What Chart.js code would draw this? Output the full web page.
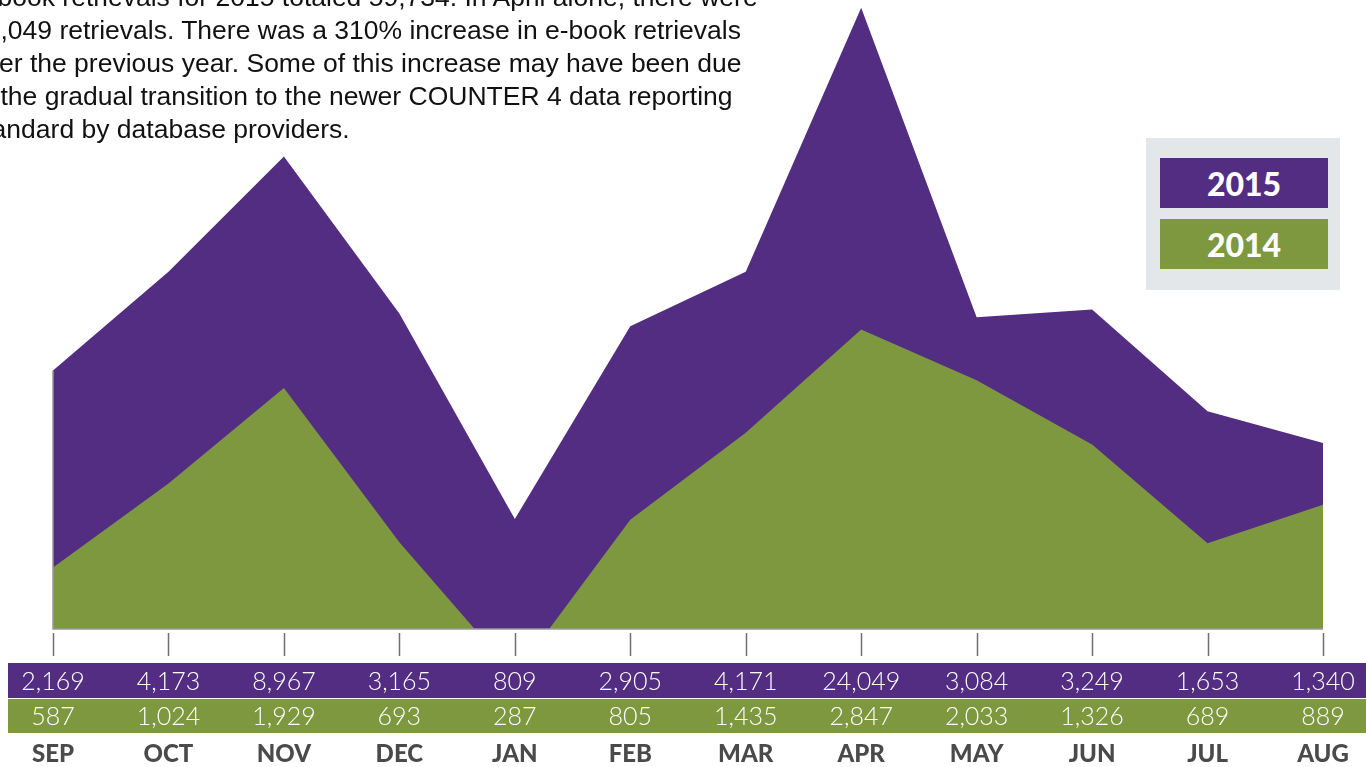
<!DOCTYPE html>
<html lang="en">
<head>
    <meta charset="UTF-8">
    <title>E-book retrievals 2014 vs 2015</title>
    <script src="https://cdn.jsdelivr.net/npm/chart.js"></script>
    <style>
        * { margin: 0; padding: 0; box-sizing: border-box; }
        body { width: 1366px; height: 767px; overflow: hidden; background: #fff; position: relative; font-family: 'Liberation Sans', Arial, sans-serif; }

        #wrap { position: absolute; left: 0; top: 0; width: 1366px; height: 767px; }

        /* intro text, cropped at the top-left like the source */
        .intro {
            position: absolute; left: -29px; top: -19px; z-index: 2;
            font-size: 26.5px; line-height: 33px; color: #111; white-space: nowrap;
        }

        /* legend box */
        .legend-box { position: absolute; left: 1146px; top: 138px; width: 194px; height: 152px; background: #e4e7ea; z-index: 2; }
        .legend-item {
            position: absolute; left: 14px; width: 168px; height: 50px;
            color: #fff; font-family: Lato, sans-serif; font-weight: 900; font-size: 32px;
            display: flex; align-items: center; justify-content: center;
        }
        .legend-item.y2015 { top: 20px; background: #532d81; }
        .legend-item.y2014 { top: 81px; background: #7d983e; }
    </style>
</head>
<body>
    <div class="intro">
        E-book retrievals for 2015 totaled 59,734. In April alone, there were<br>
        24,049 retrievals. There was a 310% increase in e-book retrievals<br>
        over the previous year. Some of this increase may have been due<br>
        to the gradual transition to the newer COUNTER 4 data reporting<br>
        standard by database providers.
    </div>

    <div class="legend-box">
        <div class="legend-item y2015">2015</div>
        <div class="legend-item y2014">2014</div>
    </div>

    <div id="wrap">
        <canvas id="ebookChart" width="1366" height="767"></canvas>
    </div>

    <script>
        // data
        const months = ['SEP', 'OCT', 'NOV', 'DEC', 'JAN', 'FEB', 'MAR', 'APR', 'MAY', 'JUN', 'JUL', 'AUG'];
        const retrievals2015 = [2169, 4173, 8967, 3165, 809, 2905, 4171, 24049, 3084, 3249, 1653, 1340];
        const retrievals2014 = [587, 1024, 1929, 693, 287, 805, 1435, 2847, 2033, 1326, 689, 889];

        const PURPLE = '#532d81';
        const GREEN = '#7d983e';

        const fmt = n => n.toLocaleString('en-US');

        // baseline, tick marks and the value table under the chart
        const tablePlugin = {
            id: 'valueTable',
            afterDraw(chart) {
                const ctx = chart.ctx;
                const x = chart.scales.x;
                const y = chart.scales.y;
                const area = chart.chartArea;

                ctx.save();
                // gray baseline + left edge
                ctx.strokeStyle = '#999';
                ctx.lineWidth = 1.5;
                ctx.beginPath();
                ctx.moveTo(area.left, y.getPixelForValue(retrievals2015[0]));
                ctx.lineTo(area.left, area.bottom);
                ctx.lineTo(area.right, area.bottom);
                ctx.stroke();

                // tick marks
                ctx.strokeStyle = '#6f6f6f';
                months.forEach((m, i) => {
                    const px = Math.round(x.getPixelForValue(i)) + 0.5;
                    ctx.beginPath();
                    ctx.moveTo(px, area.bottom + 4);
                    ctx.lineTo(px, area.bottom + 27);
                    ctx.stroke();
                });

                // bands
                ctx.fillStyle = PURPLE;
                ctx.fillRect(8, 663, chart.width - 8, 35);
                ctx.fillStyle = GREEN;
                ctx.fillRect(8, 699, chart.width - 8, 34);

                ctx.textAlign = 'center';
                ctx.textBaseline = 'middle';
                months.forEach((m, i) => {
                    const px = x.getPixelForValue(i);
                    ctx.fillStyle = '#fff';
                    ctx.font = '300 25px Lato, sans-serif';
                    ctx.fillText(fmt(retrievals2015[i]), px, 682);
                    ctx.fillText(fmt(retrievals2014[i]), px, 717);
                    ctx.fillStyle = '#4a4a4a';
                    ctx.font = '900 24px Lato, sans-serif';
                    ctx.fillText(m, px, 754);
                });
                ctx.restore();
            }
        };

        new Chart(document.getElementById('ebookChart'), {
            type: 'line',
            data: {
                labels: months,
                datasets: [
                    {
                        label: '2014',
                        data: retrievals2014,
                        backgroundColor: GREEN,
                        borderWidth: 0,
                        pointRadius: 0,
                        fill: 'start',
                        tension: 0
                    },
                    {
                        label: '2015',
                        data: retrievals2015,
                        backgroundColor: PURPLE,
                        borderWidth: 0,
                        pointRadius: 0,
                        fill: 'start',
                        tension: 0
                    }
                ]
            },
            options: {
                responsive: false,
                animation: false,
                layout: { padding: { left: 53, right: 43, top: 5, bottom: 138 } },
                scales: {
                    x: { display: false, offset: false },
                    y: { display: false, type: 'logarithmic', min: 390, max: 24500 }
                },
                plugins: {
                    legend: { display: false },
                    tooltip: { enabled: false }
                }
            },
            plugins: [tablePlugin]
        });
    </script>
</body>
</html>
